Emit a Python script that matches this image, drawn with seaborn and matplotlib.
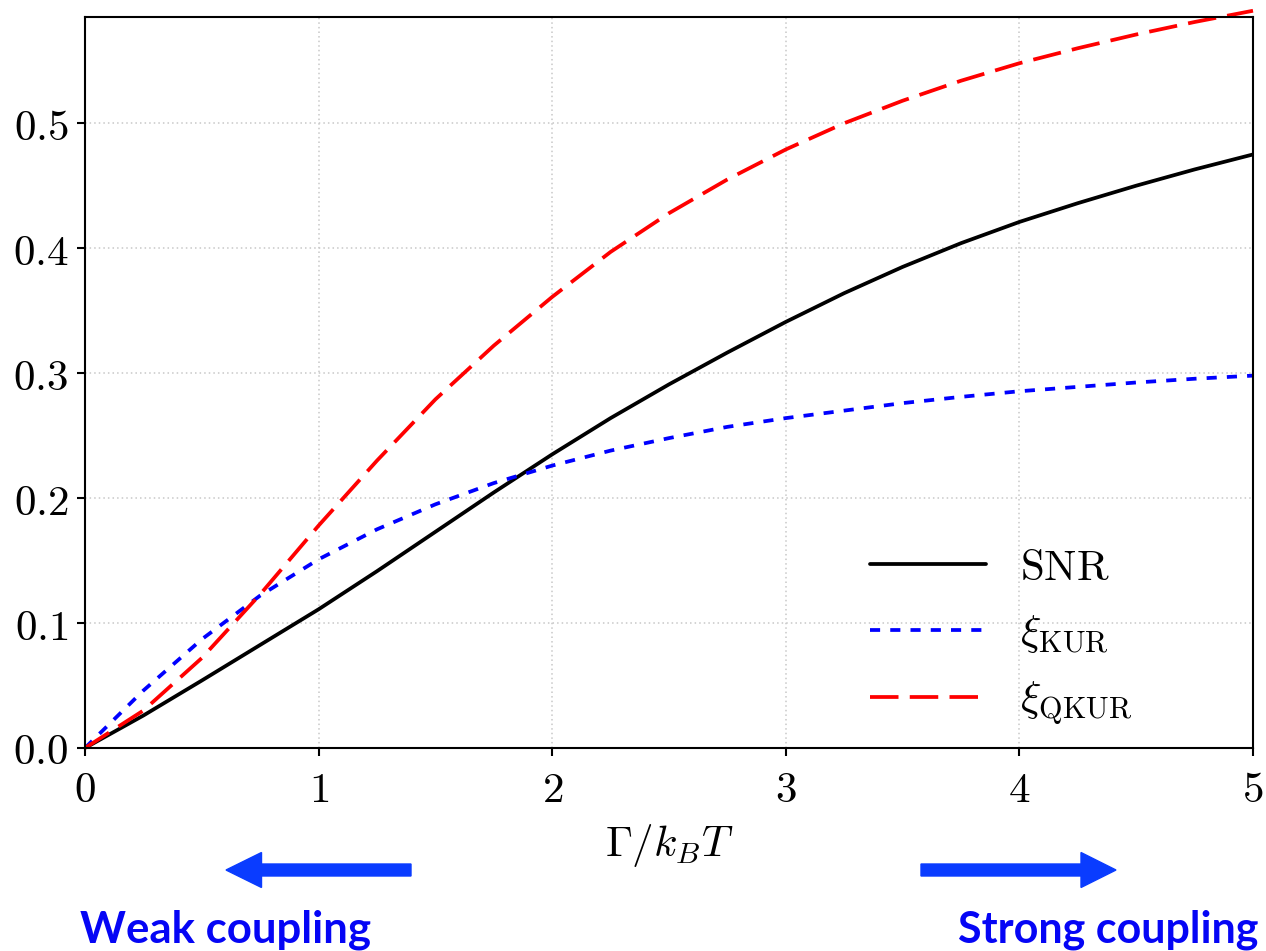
import numpy as np
import pandas as pd
import matplotlib
matplotlib.use('Agg')
import matplotlib.pyplot as plt
from matplotlib.patches import FancyArrow
import seaborn as sns

# Valores
gamma = [0, 0.25, 0.5, 0.75, 1, 1.25, 1.5, 1.75, 2, 2.25, 2.5, 2.75,
         3, 3.25, 3.5, 3.75, 4, 4.25, 4.5, 4.75, 5]
snr = [0, 0.026, 0.054, 0.0825, 0.111, 0.1415, 0.173, 0.2045, 0.235, 0.264,
       0.291, 0.3165, 0.341, 0.364, 0.385, 0.404, 0.421, 0.436, 0.450,
       0.463, 0.475]
xi_kur = [0, 0.046, 0.087, 0.122, 0.151, 0.175, 0.195, 0.212, 0.226, 0.238,
          0.248, 0.257, 0.264, 0.270, 0.276, 0.281, 0.2855, 0.289, 0.2925,
          0.2955, 0.298]
xi_qkur = [0, 0.030, 0.072, 0.123, 0.178, 0.230, 0.279, 0.322, 0.361, 0.397,
           0.428, 0.455, 0.479, 0.500, 0.518, 0.534, 0.548, 0.560, 0.571,
           0.581, 0.590]

xticks = [0, 1, 2, 3, 4, 5]
yticks = [0.0, 0.1, 0.2, 0.3, 0.4, 0.5]
labels = [r'$\mathrm{SNR}$', r'$\xi_{\mathrm{KUR}}$', r'$\xi_{\mathrm{QKUR}}$']

sns.set_style('ticks')
plt.rcParams['mathtext.fontset'] = 'cm'
plt.rcParams['font.family'] = ['DejaVu Sans']
plt.rcParams['text.color'] = 'black'
plt.rcParams['axes.labelcolor'] = 'black'
plt.rcParams['xtick.color'] = 'black'
plt.rcParams['ytick.color'] = 'black'

fs = 31
fig = plt.figure(figsize=(12.66, 9.51), dpi=100)
ax = fig.add_axes([85 / 1266, 203 / 951, 1168 / 1266, 731 / 951])

df = pd.DataFrame({'g': gamma, 'snr': snr, 'kur': xi_kur, 'qkur': xi_qkur})
lw = 2.7
sns.lineplot(data=df, x='g', y='snr', color='black', lw=lw,
             label=labels[0], ax=ax)
sns.lineplot(data=df, x='g', y='kur', color='blue', lw=lw,
             linestyle=(0, (2.7, 2.7)), label=labels[1], ax=ax)
sns.lineplot(data=df, x='g', y='qkur', color='red', lw=lw,
             linestyle=(0, (7.6, 3.0)), label=labels[2], ax=ax,
             clip_on=False)

ax.set_xlim(0, 5)
ax.set_ylim(0, 0.585)
ax.set_xticks(xticks, [rf'${t}$' for t in xticks])
ax.set_yticks(yticks, [rf'${t:.1f}$' for t in yticks])
ax.tick_params(labelsize=fs, length=6, width=1.5, direction='out')
ax.tick_params(axis='x', pad=9)
ax.tick_params(axis='y', pad=6)
for s in ax.spines.values():
    s.set_linewidth(1.5)
    s.set_color('black')
ax.grid(True, linestyle=(0, (1, 2)), color='#c8c8c8', lw=1.1)
ax.set_xlabel(r'$\Gamma/k_BT$', fontsize=fs, labelpad=8)
ax.set_ylabel('')

ax.legend(loc='center left', bbox_to_anchor=(0.657, 0.152), frameon=False,
          fontsize=fs, handlelength=2.7, handletextpad=0.8,
          labelspacing=0.55, borderaxespad=0)

# Flechas y textos de acoplamiento debajo del eje
arrow_color = '#0a3cff'
text_color = '#0505f5'
fig.patches.append(FancyArrow(4.11, 0.81, -1.85, 0, width=0.12,
                              head_width=0.35, head_length=0.355,
                              length_includes_head=True, color=arrow_color,
                              transform=fig.dpi_scale_trans, figure=fig))
fig.patches.append(FancyArrow(9.21, 0.81, 1.95, 0, width=0.12,
                              head_width=0.35, head_length=0.35,
                              length_includes_head=True, color=arrow_color,
                              transform=fig.dpi_scale_trans, figure=fig))
fig.text(80 / 1266, 8 / 951, 'Weak coupling', fontsize=31.5,
         fontfamily='Lato', fontweight='bold', color=text_color,
         va='baseline', ha='left')
fig.text(958 / 1266, 8 / 951, 'Strong coupling', fontsize=31,
         fontfamily='Lato', fontweight='bold', color=text_color,
         va='baseline', ha='left')

fig.savefig('out.png', dpi=100)
